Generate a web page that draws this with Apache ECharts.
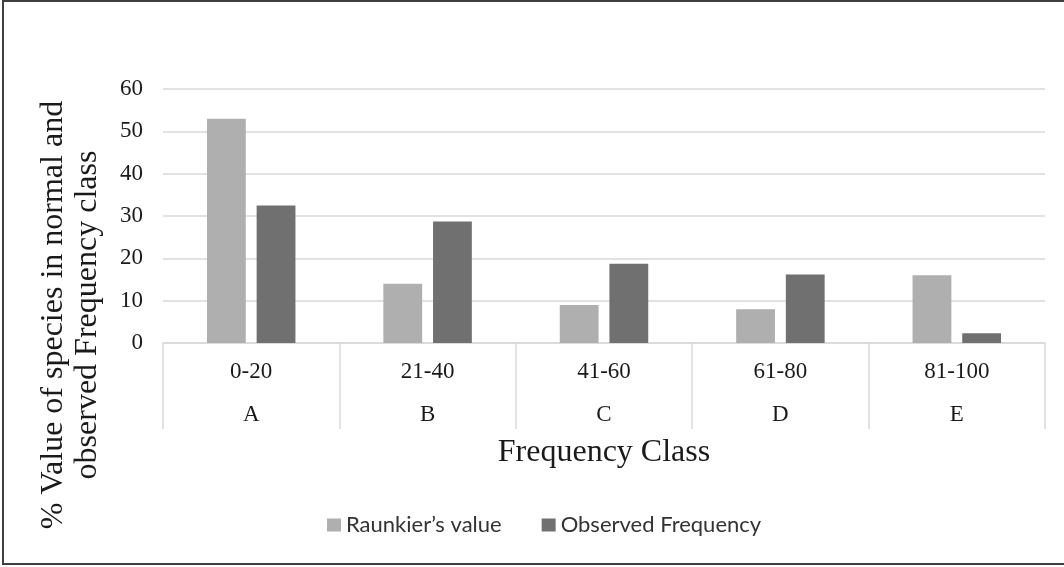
<!DOCTYPE html>
<html>
<head>
<meta charset="utf-8">
<script src="https://cdn.jsdelivr.net/npm/echarts@6/dist/echarts.min.js"></script>
<style>
  html, body { margin: 0; padding: 0; background: #fff; }
  #chart { width: 1064px; height: 567px; }
</style>
</head>
<body>
<div id="chart"></div>
<script>
// Frequency classes (range row and letter row of the category axis)
const classRanges = ['0-20', '21-40', '41-60', '61-80', '81-100'];
const classLetters = ['A', 'B', 'C', 'D', 'E'];

// Percentage of species per frequency class
const raunkierValues = [53, 14, 9, 8, 16];
const observedValues = [32.5, 28.7, 18.7, 16.2, 2.3];

// Value axis ticks
const yMin = 0;
const yMax = 60;
const yStep = 10;

const seriesNames = ['Raunkier\u2019s value', 'Observed Frequency'];

const serif = "'Liberation Serif', 'Times New Roman', serif";
const gridColor = '#d9d9d9';

const chart = echarts.init(document.getElementById('chart'), null, { renderer: 'canvas' });

chart.setOption({
  backgroundColor: '#ffffff',
  animation: false,
  color: ['#afafaf', '#707070'],
  grid: { left: 163, right: 19, top: 89, bottom: 224, containLabel: false },
  legend: {
    data: seriesNames,
    top: 514,
    left: 327,
    padding: 0,
    itemWidth: 14,
    itemHeight: 13,
    itemGap: 40,
    icon: 'rect',
    textStyle: { fontFamily: "Lato, 'Open Sans', sans-serif", fontSize: 22, color: '#333333' }
  },
  xAxis: [
    {
      type: 'category',
      data: classRanges,
      boundaryGap: true,
      axisLine: { show: true, lineStyle: { color: gridColor, width: 1.5 } },
      axisTick: { show: true, length: 86, lineStyle: { color: gridColor, width: 1.5 } },
      axisLabel: { margin: 17, fontFamily: serif, fontSize: 23, color: '#1a1a1a' }
    },
    {
      type: 'category',
      data: classLetters,
      position: 'bottom',
      boundaryGap: true,
      axisLine: { show: false },
      axisTick: { show: false },
      axisLabel: { margin: 60, fontFamily: serif, fontSize: 23, color: '#1a1a1a' },
      name: 'Frequency Class',
      nameLocation: 'middle',
      nameGap: 94,
      nameTextStyle: { fontFamily: serif, fontSize: 32, color: '#1a1a1a' }
    }
  ],
  yAxis: {
    type: 'value',
    min: yMin,
    max: yMax,
    interval: yStep,
    axisLine: { show: false },
    axisTick: { show: false },
    splitLine: { show: true, lineStyle: { color: gridColor, width: 1.5 } },
    axisLabel: { margin: 20, fontFamily: serif, fontSize: 23, color: '#1a1a1a' }
  },
  series: [
    {
      name: seriesNames[0],
      type: 'bar',
      xAxisIndex: 0,
      data: raunkierValues,
      barWidth: '22%',
      barGap: '28%',
      itemStyle: { color: '#afafaf' }
    },
    {
      name: seriesNames[1],
      type: 'bar',
      xAxisIndex: 0,
      data: observedValues,
      barWidth: '22%',
      barGap: '28%',
      itemStyle: { color: '#707070' }
    }
  ],
  graphic: [
    {
      type: 'rect',
      silent: true,
      shape: { x: 3, y: 1, width: 1070, height: 563 },
      style: { fill: 'none', stroke: '#3f3f3f', lineWidth: 2 }
    },
    {
      type: 'text',
      silent: true,
      x: 71,
      y: 315,
      rotation: Math.PI / 2,
      style: {
        text: '% Value of species in normal and\nobserved Frequency class',
        font: '32px ' + serif,
        fill: '#1a1a1a',
        align: 'center',
        verticalAlign: 'middle',
        lineHeight: 34
      }
    }
  ]
});
</script>
</body>
</html>
